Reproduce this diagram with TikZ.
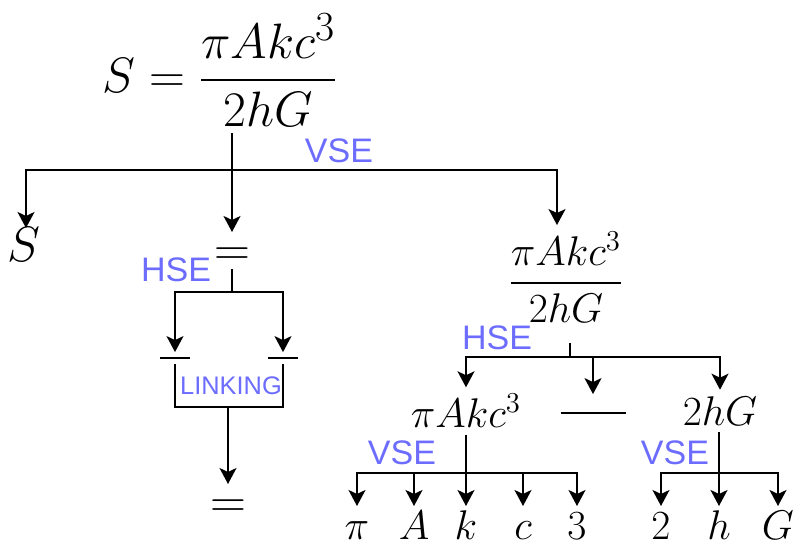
\documentclass[tikz,border=0pt]{standalone}
\usepackage{amsmath,amssymb}
\usepackage{fontspec}
\usepackage{tikz}
\usetikzlibrary{arrows.meta}
\newfontfamily\labelfont{Liberation Sans}
\definecolor{lblue}{RGB}{108,108,255}

\begin{document}
\begin{tikzpicture}[x=0.5pt, y=-0.5pt,
    >={Stealth[length=8pt,width=8.5pt,inset=2pt]},
    line width=0.9pt, font=\fontsize{20.74pt}{25pt}\selectfont,
    expr/.style={inner sep=3pt},
    leaf/.style={anchor=north, inner sep=1pt, text height=15.5pt, text depth=0pt},
    big/.style={font=\fontsize{24.88pt}{30pt}\selectfont},
    bar/.style={inner xsep=0pt, inner ysep=2pt},
    lbl/.style={lblue, inner sep=0pt, font=\labelfont\fontsize{17pt}{20pt}\selectfont}]
  \useasboundingbox (0,0) rectangle (794,544);

  % Whole formula
  \node[expr, big] (eq) at (220,70) {$S = \dfrac{\pi A k c^3}{2hG}$};
  \coordinate (j1) at (232,170);
  \draw (eq.south -| j1) -- (j1);
  \node[lbl] (vseTop) at (339,151) {VSE};

  % First split
  \node[leaf, big] (s) at (24,228) {$S$};
  \node[leaf, big] (eqA) at (232,232) {$=$};
  \node[expr] (frac) at (566,277) {$\dfrac{\pi A k c^3}{2hG}$};
  \draw[->] (j1) -| ([xshift=1pt]s.north);
  \draw[->] (j1) -- (eqA);
  \draw[->] (j1) -| ([xshift=-4.5pt]frac.north);

  % Equal sign: two bars, then linked again
  \coordinate (j2) at (232,292);
  \draw (eqA) -- (j2);
  \node[lbl] (hseLeft) at (176,270) {HSE};
  \node[bar] (barA) at (175,358) {\rule{15pt}{1pt}};
  \node[bar] (barB) at (283,358) {\rule{15pt}{1pt}};
  \draw[->] (j2) -| (barA);
  \draw[->] (j2) -| (barB);
  \coordinate (j3) at (228,407);
  \draw (barA.south) |- (j3) -| (barB.south);
  \node[lbl, font=\labelfont\fontsize{12.7pt}{15pt}\selectfont] (link) at (231,386) {LINKING};
  \node[leaf, big] (eqB) at (228,484) {$=$};
  \draw[->] (j3) -- (eqB);

  % Fraction: numerator, bar, denominator
  \coordinate (j4) at (570,357);
  \draw[shorten <=7pt] (frac.south -| j4) -- (j4);
  \node[lbl] (hseRight) at (497,338) {HSE};
  \node[expr] (num) at (466,411) {$\pi A k c^3$};
  \node[bar, inner ysep=8.5pt] (fbar) at (593,413) {\rule{32.5pt}{1pt}};
  \node[expr] (den) at (720,411) {$2hG$};
  \draw[->] (j4) -| (num);
  \draw[->] (j4) -| (fbar);
  \draw[->] (j4) -| (den);

  % Numerator symbols
  \coordinate (j5) at (466,473);
  \draw (num) -- (j5);
  \node[lbl] (vseNum) at (402,453) {VSE};
  \node[leaf] (pi) at (357,506) {$\pi$};
  \node[leaf] (a) at (414,506) {$A$};
  \node[leaf] (k) at (466,506) {$k$};
  \node[leaf] (c) at (523,506) {$c$};
  \node[leaf] (three) at (577,506) {$3$};
  \draw[->] (j5) -| (pi);
  \draw[->] (j5) -| (a);
  \draw[->] (j5) -- (k);
  \draw[->] (j5) -| (c);
  \draw[->] (j5) -| (three);

  % Denominator symbols
  \coordinate (j6) at (719,473);
  \draw (den.south -| j6) -- (j6);
  \node[lbl] (vseDen) at (675,453) {VSE};
  \node[leaf] (two) at (661,506) {$2$};
  \node[leaf] (h) at (719,506) {$h$};
  \node[leaf] (g) at (778,506) {$G$};
  \draw[->] (j6) -| (two);
  \draw[->] (j6) -- (h);
  \draw[->] (j6) -| (g);
\end{tikzpicture}
\end{document}
